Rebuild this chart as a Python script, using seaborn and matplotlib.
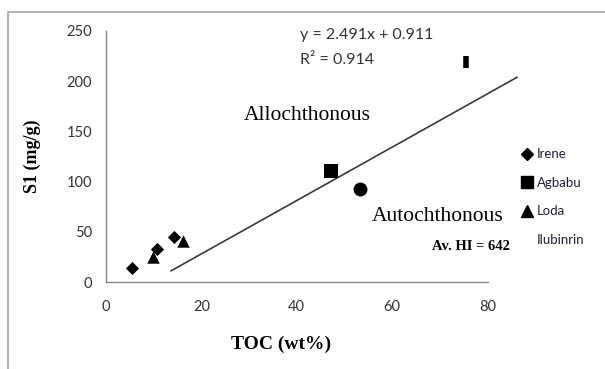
import matplotlib
matplotlib.use("Agg")
import matplotlib.pyplot as plt
import seaborn as sns
import pandas as pd
from matplotlib.patches import Rectangle
from matplotlib.lines import Line2D

sns.set_style("white")
plt.rcParams['font.family'] = ['Lato', 'DejaVu Sans']

# ---- data ----
irene_x = [5.4, 10.6, 14.3]
irene_y = [14, 33, 45]
agbabu_x = [47.2]
agbabu_y = [111]
loda_x = [9.8, 16.2]
loda_y = [25, 41]
ilubinrin_x = [53.2]
ilubinrin_y = [92.5]
extra_x = [75.5]
extra_y = [219]
trend_x = [13.6, 86.2]
trend_y = [11, 204]
x_ticks = [0, 20, 40, 60, 80]
y_ticks = [0, 50, 100, 150, 200, 250]

W, H = 605, 369
fig = plt.figure(figsize=(W / 100, H / 100), dpi=100)
ax_left, ax_right = 106, 521
ax_bottom, ax_top = 282, 31
ax = fig.add_axes([ax_left / W, (H - ax_bottom) / H,
                   (ax_right - ax_left) / W, (ax_bottom - ax_top) / H])

# figure frame
fig.patches.append(Rectangle((8 / W, -0.1), 1.2, (H - 12) / H + 0.1,
                             transform=fig.transFigure, fill=False,
                             edgecolor='#a6a6a6', lw=1.2, zorder=0))

tick_col = '#333333'

sns.lineplot(x=trend_x, y=trend_y, ax=ax, color='#3a3a3a', lw=1.2)

sns.scatterplot(x=irene_x, y=irene_y, ax=ax, marker='D', s=45, color='black',
                linewidth=0, zorder=3)
sns.scatterplot(x=loda_x, y=loda_y, ax=ax, marker='^', s=80, color='black',
                linewidth=0, zorder=3)
sns.scatterplot(x=agbabu_x, y=agbabu_y, ax=ax, marker='s', s=90, color='black',
                linewidth=0, zorder=3)
sns.scatterplot(x=ilubinrin_x, y=ilubinrin_y, ax=ax, marker='o', s=100,
                color='black', linewidth=0, zorder=3)
sns.scatterplot(x=extra_x, y=extra_y, ax=ax, marker='|', s=75, color='black',
                linewidth=4, zorder=3)

ax.set_xlim(0, 87)
ax.set_ylim(0, 250)
ax.set_xticks(x_ticks)
ax.set_yticks(y_ticks)
ax.tick_params(axis='both', direction='out', length=4, width=1,
               color='#868686', labelcolor=tick_col, labelsize=10.5)
ax.tick_params(axis='x', pad=9)
ax.tick_params(axis='y', pad=6)
for s in ['top', 'right']:
    ax.spines[s].set_visible(False)
for s in ['left', 'bottom']:
    ax.spines[s].set_color('#868686')
    ax.spines[s].set_linewidth(1)
ax.spines['bottom'].set_bounds(0, 80)
ax.spines['left'].set_bounds(0, 250)

serif = ['Liberation Serif', 'DejaVu Serif']
ax.set_xlabel('TOC (wt%)', fontfamily=serif, fontweight='bold', fontsize=14,
              color='black')
ax.xaxis.set_label_coords((281 - ax_left) / (ax_right - ax_left), -0.213)
ax.set_ylabel('S1 (mg/g)', fontfamily=serif, fontweight='bold', fontsize=13,
              color='black')
ax.yaxis.set_label_coords(-(106 - 41) / (ax_right - ax_left), 0.5)

ax.text(40.7, 246, 'y = 2.491x + 0.911', fontsize=11.5, color=tick_col,
        ha='left', va='center')
ax.text(40.7, 221, 'R² = 0.914', fontsize=11.5, color=tick_col,
        ha='left', va='center')
ax.text(42.1, 166, 'Allochthonous', fontfamily=serif, fontsize=15.5,
        ha='center', va='center', color='black')
ax.text(69.6, 65, 'Autochthonous', fontfamily=serif, fontsize=15.5,
        ha='center', va='center', color='black')
ax.text(76.5, 35, 'Av. HI = 642', fontfamily=serif, fontweight='bold',
        fontsize=10.5, ha='center', va='center', color='black')

handles = [
    Line2D([], [], marker='D', ls='', color='black', markersize=6.5),
    Line2D([], [], marker='s', ls='', color='black', markersize=9),
    Line2D([], [], marker='^', ls='', color='black', markersize=8.5),
    Line2D([], [], marker='o', ls='', color='black', markersize=0, alpha=0),
]
labels = ['Irene', 'Agbabu', 'Loda', 'Ilubinrin']
leg = ax.legend(handles, labels, loc='center left',
                bbox_to_anchor=(515 / W, (H - 197) / H),
                bbox_transform=fig.transFigure, frameon=False,
                fontsize=9.5, handlelength=0.8, handletextpad=0.35,
                labelspacing=1.25, borderpad=0)
for t in leg.get_texts():
    t.set_color('#1f1f3a')

fig.savefig('out.png', dpi=100)
